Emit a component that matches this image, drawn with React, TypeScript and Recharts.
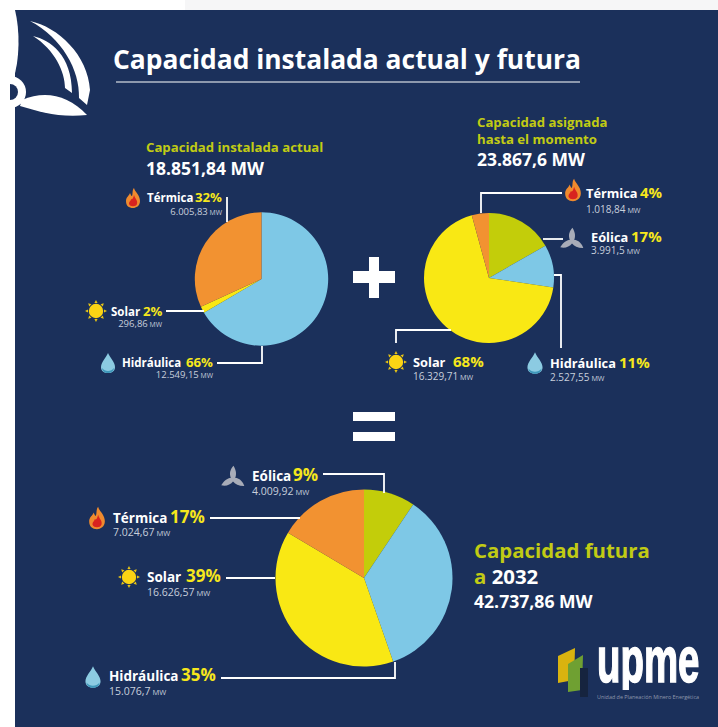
// App.tsx - capacidad instalada actual y futura
import React from 'react';
import { PieChart, Pie, Cell } from 'recharts';

const NAVY = '#1B305B';
const OLIVE = '#C1CB14';
const YELLOW = '#F6E71C';
const SUBTEXT = '#C8CFDB';
const FONT = '"Open Sans", "Noto Sans", sans-serif';

const COLOR_HIDRO = '#7EC8E6';
const COLOR_SOLAR = '#F9E814';
const COLOR_TERMICA = '#F29231';
const COLOR_EOLICA = '#C3CD0A';

const actualNames = ['Hidráulica', 'Solar', 'Térmica'];
const actualValues = [12549.15, 296.86, 6005.83];
const actualColors = [COLOR_HIDRO, COLOR_SOLAR, COLOR_TERMICA];

const asignadaNames = ['Eólica', 'Hidráulica', 'Solar', 'Térmica'];
const asignadaValues = [3991.5, 2527.55, 16329.71, 1018.84];
const asignadaColors = [COLOR_EOLICA, COLOR_HIDRO, COLOR_SOLAR, COLOR_TERMICA];

const futuraNames = ['Eólica', 'Hidráulica', 'Solar', 'Térmica'];
const futuraValues = [4009.92, 15076.7, 16626.57, 7024.67];
const futuraColors = [COLOR_EOLICA, COLOR_HIDRO, COLOR_SOLAR, COLOR_TERMICA];

const toRows = (names: string[], values: number[]) =>
  names.map((name, i) => ({ name, value: values[i] }));

const Flame = ({ x, y, s = 1 }: { x: number; y: number; s?: number }) => (
  <g transform={`translate(${x},${y}) scale(${s})`}>
    <path
      d="M1,-10 C2,-6 7,-3 7,3 C7,8 3,10 0,10 C-4,10 -7,8 -7,3 C-7,-1 -4,-2 -3,-5 C-2,-3 -2,-2 -1,-2 C0,-4 -1,-8 1,-10 Z"
      fill="#EF8A2E"
    />
    <path
      d="M1,-3 C2,1 5,2 4,6 C3,9 -3,9 -4,6 C-4,3 -2,3 -2,1 C-1,2 0,1 1,-3 Z"
      fill="#D8231F"
    />
  </g>
);

const Drop = ({ x, y, s = 1 }: { x: number; y: number; s?: number }) => (
  <g transform={`translate(${x},${y}) scale(${s})`}>
    <path
      d="M0,-10 C2,-5 7,-1 7,4 C7,8 4,10 0,10 C-4,10 -7,8 -7,4 C-7,-1 -2,-5 0,-10 Z"
      fill="#8CCBE2"
    />
    <path d="M-6,5 C-3,9 3,9 6,5 C6,8 3,10 0,10 C-3,10 -6,8 -6,5 Z" fill="#3F97BA" />
  </g>
);

const rayAngles = [0, 45, 90, 135, 180, 225, 270, 315];

const Sun = ({ x, y, s = 1 }: { x: number; y: number; s?: number }) => (
  <g transform={`translate(${x},${y}) scale(${s})`}>
    {rayAngles.map((a) => (
      <path key={a} d="M-1.6,-8 L0,-11 L1.6,-8 Z" fill="#E9C514" transform={`rotate(${a})`} />
    ))}
    <circle r={7.2} fill="#FBD414" />
  </g>
);

const bladeAngles = [0, 120, 240];

const Turbine = ({ x, y, s = 1 }: { x: number; y: number; s?: number }) => (
  <g transform={`translate(${x},${y}) scale(${s})`}>
    {bladeAngles.map((a) => (
      <path
        key={a}
        d="M-2.2,-1 C-4.5,-6 -2.5,-11 0.5,-14 C3.5,-9 3.8,-5 2.2,-1 Z"
        fill="#A8ACB8"
        transform={`rotate(${a})`}
      />
    ))}
    <circle r={2.4} fill="#A8ACB8" />
  </g>
);

// one label: name, percentage and the MW figure under it
const Callout = (p: {
  x: number;
  y: number;
  name: string;
  pct: string;
  pctX: number;
  mw: string;
  subX: number;
  subY: number;
  end?: boolean;
  size?: number;
  pctSize?: number;
  subSize?: number;
}) => {
  const size = p.size ?? 12.8;
  const pctSize = p.pctSize ?? 15;
  const subSize = p.subSize ?? 10;
  return (
    <g fontFamily={FONT}>
      <text x={p.x} y={p.y} fontSize={size} fontWeight={700} fill="#fff">
        {p.name}
      </text>
      <text x={p.pctX} y={p.y} fontSize={pctSize} fontWeight={700} fill={YELLOW}>
        {p.pct}
      </text>
      <text x={p.subX} y={p.subY} fontSize={subSize} fill={SUBTEXT} textAnchor={p.end ? 'end' : 'start'}>
        {p.mw}
        <tspan fontSize={subSize * 0.72}> MW</tspan>
      </text>
    </g>
  );
};

const Leader = ({ d }: { d: string }) => <path d={d} fill="none" stroke="#fff" strokeWidth={1.8} />;

const App = () => (
  <div style={{ position: 'absolute', left: 0, top: 0, width: 718, height: 727, background: '#fff', overflow: 'hidden' }}>
    <div style={{ position: 'absolute', left: 185, top: 0, width: 533, height: 10, background: '#F6F6F7' }} />
    <div style={{ position: 'absolute', left: 15, top: 10, width: 703, height: 717, background: NAVY }} />
    <div style={{ position: 'absolute', left: 0, top: 0 }}>
      <PieChart width={718} height={727} margin={{ top: 0, right: 0, bottom: 0, left: 0 }}>
        <Pie
          data={toRows(actualNames, actualValues)}
          dataKey="value"
          nameKey="name"
          cx={261.5}
          cy={279}
          outerRadius={66.7}
          startAngle={90}
          endAngle={-270}
          stroke="none"
          isAnimationActive={false}
        >
          {actualColors.map((c) => (
            <Cell key={c} fill={c} />
          ))}
        </Pie>
        <Pie
          data={toRows(asignadaNames, asignadaValues)}
          dataKey="value"
          nameKey="name"
          cx={489}
          cy={278}
          outerRadius={65}
          startAngle={90}
          endAngle={-270}
          stroke="none"
          isAnimationActive={false}
        >
          {asignadaColors.map((c) => (
            <Cell key={c} fill={c} />
          ))}
        </Pie>
        <Pie
          data={toRows(futuraNames, futuraValues)}
          dataKey="value"
          nameKey="name"
          cx={364}
          cy={578}
          outerRadius={88.5}
          startAngle={90}
          endAngle={-270}
          stroke="none"
          isAnimationActive={false}
        >
          {futuraColors.map((c) => (
            <Cell key={c} fill={c} />
          ))}
        </Pie>
      </PieChart>
    </div>
    <svg width={718} height={727} style={{ position: 'absolute', left: 0, top: 0, pointerEvents: 'none' }}>
      <defs>
        <clipPath id="logoClip">
          <rect x={590} y={640} width={120} height={50} />
        </clipPath>
      </defs>

      {/* turbine corner */}
      <path d="M15,10 C20,30 20,60 13,80 L0,80 L0,10 Z" fill="#fff" />
      <rect x={0} y={80} width={10} height={647} fill="#fff" />
      <rect x={10} y={106} width={5} height={621} fill="#fff" />
      <circle cx={10} cy={92} r={16} fill="#fff" />
      <path d="M10,84 A8,8 0 0 1 10,100 Z" fill={NAVY} />
      <path d="M22,100 C45,90 68,95 87,115 C60,118 40,112 20,106 Z" fill="#fff" />
      <path d="M30,21 C58,27 88,55 90,90 L87,105 L79,98 C80,70 62,38 30,21 Z" fill="#fff" />
      <path d="M33,36 C50,40 72,55 72,93 L65,88 C65,72 55,50 33,36 Z" fill="#fff" />

      {/* title */}
      <text x={113} y={69} fontFamily={FONT} fontSize={26.4} fontWeight={700} fill="#fff">
        Capacidad instalada actual y futura
      </text>
      <line x1={116} y1={82} x2={580} y2={82} stroke="#fff" strokeWidth={1.2} />

      {/* capacidad actual */}
      <g fontFamily={FONT} fontWeight={700}>
        <text x={146} y={152} fontSize={13.2} fill={OLIVE}>
          Capacidad instalada actual
        </text>
        <text x={146} y={175} fontSize={17.5} fill="#fff">
          18.851,84 MW
        </text>
      </g>
      <Leader d="M227,197 V222" />
      <Leader d="M166,311 H204" />
      <Leader d="M262,346 V363 H217" />
      <Flame x={133} y={198} />
      <Sun x={96} y={311} />
      <Drop x={108} y={363} />
      <Callout x={147} y={202} name="Térmica" pct="32%" pctX={195} mw="6.005,83" subX={222} subY={215} end size={11.5} pctSize={13.2} subSize={9.5} />
      <Callout x={111} y={316} name="Solar" pct="2%" pctX={143} mw="296,86" subX={162} subY={327} end size={11.5} pctSize={13.2} subSize={9.5} />
      <Callout x={122} y={367} name="Hidráulica" pct="66%" pctX={186} mw="12.549,15" subX={213} subY={378} end size={11.5} pctSize={13.2} subSize={9.5} />

      {/* operador */}
      <rect x={353} y={271} width={42} height={12} fill="#fff" />
      <rect x={369} y={257} width={10} height={41} fill="#fff" />

      {/* capacidad asignada */}
      <g fontFamily={FONT} fontWeight={700}>
        <text x={477} y={127} fontSize={13.2} fill={OLIVE}>
          Capacidad asignada
        </text>
        <text x={477} y={144} fontSize={13.2} fill={OLIVE}>
          hasta el momento
        </text>
        <text x={477} y={166} fontSize={17.5} fill="#fff">
          23.867,6 MW
        </text>
      </g>
      <Leader d="M481,213 V193 H562" />
      <Leader d="M543,239 H563" />
      <Leader d="M554,275 H561 V348" />
      <Leader d="M451,330 H396 V343" />
      <Flame x={573} y={190} s={1.12} />
      <Turbine x={572} y={241} s={0.95} />
      <Sun x={396} y={362} />
      <Drop x={535} y={363} s={1.08} />
      <Callout x={586} y={198} name="Térmica" pct="4%" pctX={640} mw="1.018,84" subX={586} subY={213} />
      <Callout x={591} y={242} name="Eólica" pct="17%" pctX={631} mw="3.991,5" subX={591} subY={254} />
      <Callout x={413} y={367} name="Solar" pct="68%" pctX={453} mw="16.329,71" subX={413} subY={380} />
      <Callout x={550} y={368} name="Hidráulica" pct="11%" pctX={619} mw="2.527,55" subX={550} subY={381} />

      <rect x={353} y={412} width={42} height={9} fill="#fff" />
      <rect x={353} y={432} width={42} height={9} fill="#fff" />

      {/* capacidad futura */}
      <Leader d="M323,474 H384 V493" />
      <Leader d="M210,518 H300" />
      <Leader d="M226,578 H275" />
      <Leader d="M221,678 H395 V662" />
      <Turbine x={233} y={479} s={0.95} />
      <Flame x={97} y={518} s={1.12} />
      <Sun x={129} y={577} />
      <Drop x={93} y={677} s={1.08} />
      <Callout x={252} y={481} name="Eólica" pct="9%" pctX={293} mw="4.009,92" subX={252} subY={495} pctSize={17} size={13.5} subSize={10.5} />
      <Callout x={113} y={523} name="Térmica" pct="17%" pctX={170} mw="7.024,67" subX={113} subY={536} pctSize={17} size={13.5} subSize={10.5} />
      <Callout x={147} y={582} name="Solar" pct="39%" pctX={186} mw="16.626,57" subX={147} subY={596} pctSize={17} size={13.5} subSize={10.5} />
      <Callout x={109} y={681} name="Hidráulica" pct="35%" pctX={181} mw="15.076,7" subX={109} subY={695} pctSize={17} size={13.5} subSize={10.5} />

      <g fontFamily={FONT} fontWeight={700}>
        <text x={474} y={558} fontSize={20.4} fill={OLIVE}>
          Capacidad futura
        </text>
        <text x={474} y={584} fontSize={20.4} fill={OLIVE}>
          a <tspan fill="#fff">2032</tspan>
        </text>
        <text x={474} y={608} fontSize={17.6} fill="#fff">
          42.737,86 MW
        </text>
      </g>

      {/* logo */}
      <path d="M558,656 L575,648 L574,680 L558,683 Z" fill="#D9B30F" />
      <path d="M568,664 L583,655 L582,690 L568,692 Z" fill="#6FA032" />
      <path d="M580,668 L588,668 L588,697 L580,697 Z" fill="#16243F" />
      <g clipPath="url(#logoClip)">
        <text
          transform="translate(597,682) scale(0.6,1)"
          fontFamily='"Liberation Sans", sans-serif'
          fontSize={64}
          fontWeight={700}
          fill="#fff"
          stroke="#fff"
          strokeWidth={1.6}
        >
          upme
        </text>
      </g>
      <text x={597} y={699} fontFamily={FONT} fontSize={5.4} fill="#8F98AD" textLength={102} lengthAdjust="spacingAndGlyphs">
        Unidad de Planeación Minero Energética
      </text>
    </svg>
  </div>
);

export default App;
